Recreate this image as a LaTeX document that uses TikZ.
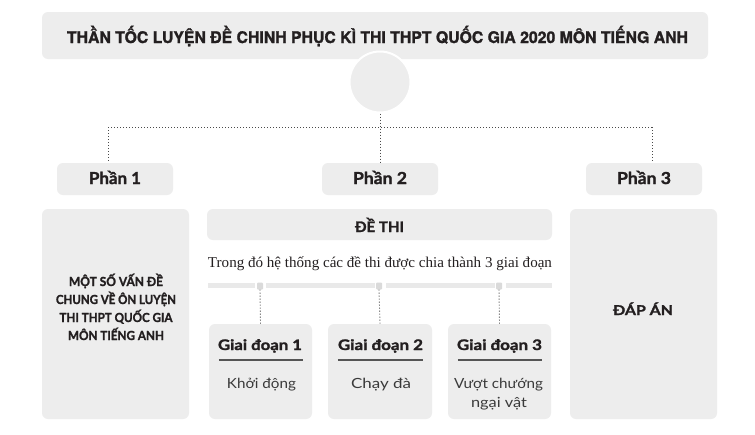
\documentclass[tikz,border=0pt]{standalone}
\usepackage{fontspec}
\usepackage{graphicx}
\setmainfont{Lato}[BoldFeatures={FakeBold=1.6}]
\newfontfamily\titlefont{TeX Gyre Heros}[BoldFeatures={FakeBold=1.4}]
\newfontfamily\seriffont{Liberation Serif}
\usetikzlibrary{calc}
\definecolor{boxgray}{HTML}{EDEDED}
\definecolor{bargray}{HTML}{E9E9E9}
\definecolor{sqgray}{HTML}{DADADA}
\definecolor{ink}{HTML}{231F20}
\definecolor{soft}{HTML}{3A3A3A}
\definecolor{dotgray}{HTML}{4A4A4A}
\definecolor{linegray}{HTML}{555555}
\newcommand{\fitw}[2]{\resizebox{#1pt}{\height}{#2}}
\begin{document}
\begin{tikzpicture}[x=1pt,y=-1pt,
  box/.style={fill=boxgray, rounded corners=6pt, inner sep=0pt},
  txt/.style={anchor=base, inner sep=0pt, text=ink},
  dotline/.style={draw=dotgray, line width=0.9pt, dash pattern=on 0.9pt off 2.1pt},
  uline/.style={draw=linegray, line width=1.5pt},
  sq/.style={fill=sqgray, rounded corners=1pt, inner sep=0pt, minimum width=6pt, minimum height=7pt},
  bar/.style={fill=bargray}]
\path[use as bounding box, fill=white] (0,0) rectangle (755,434);

% title
\node[box, minimum width=666pt, minimum height=47pt] (title) at (375,35.5) {};
\node[txt] (titletext) at (377.5,43) {\fitw{621}{\titlefont\bfseries\fontsize{16}{18}\selectfont THẦN TỐC LUYỆN ĐỀ CHINH PHỤC KÌ THI THPT QUỐC GIA 2020 MÔN TIẾNG ANH}};
\node[circle, fill=boxgray, draw=white, line width=2pt, minimum size=61pt, inner sep=0pt] (c) at (380,82) {};

% part headers
\node[box, minimum width=116pt, minimum height=32pt] (p1) at (115,179) {};
\node[box, minimum width=116pt, minimum height=32pt] (p2) at (380,179) {};
\node[box, minimum width=116pt, minimum height=32pt] (p3) at (644,179) {};
\node[txt] (p1t) at (115,184) {\fitw{52}{\bfseries\fontsize{16.5}{18}\selectfont Phần 1}};
\node[txt] (p2t) at (380,184) {\fitw{54}{\bfseries\fontsize{16.5}{18}\selectfont Phần 2}};
\node[txt] (p3t) at (644,184) {\fitw{54}{\bfseries\fontsize{16.5}{18}\selectfont Phần 3}};

% connectors
\coordinate (hl) at (108,127);
\coordinate (hr) at (652,127);
\draw[dotline] (hl) -- (hr);
\draw[dotline] (c.south) -- (p2.north);
\draw[dotline] (hl) -- (hl |- p1.north);
\draw[dotline] (hr) -- (hr |- p3.north);

% left box
\node[box, minimum width=147pt, minimum height=210pt] (left) at (115.5,314) {};
\node[txt] (l1) at (116,286) {\fitw{94}{\bfseries\fontsize{12.5}{14}\selectfont MỘT SỐ VẤN ĐỀ}};
\node[txt] (l2) at (116,304) {\fitw{120}{\bfseries\fontsize{12.5}{14}\selectfont CHUNG VỀ ÔN LUYỆN}};
\node[txt] (l3) at (116,322) {\fitw{113}{\bfseries\fontsize{12.5}{14}\selectfont THI THPT QUỐC GIA}};
\node[txt] (l4) at (116,340) {\fitw{96}{\bfseries\fontsize{12.5}{14}\selectfont MÔN TIẾNG ANH}};

% right box
\node[box, minimum width=147pt, minimum height=210pt] (right) at (643.5,314) {};
\node[txt] (ans) at (643,315) {\fitw{60}{\bfseries\fontsize{13.5}{14}\selectfont ĐÁP ÁN}};

% middle
\node[box, minimum width=345pt, minimum height=31pt] (de) at (379.5,224.5) {};
\node[txt] (det) at (379.5,232) {\fitw{49}{\bfseries\fontsize{14.5}{16}\selectfont ĐỀ THI}};
\node[txt] (intro) at (380,267) {\fitw{344}{\seriffont\fontsize{15}{17}\selectfont Trong đó hệ thống các đề thi được chia thành 3 giai đoạn}};

% bar
\fill[bar] (208,283) rectangle (255,287.5);
\fill[bar] (266,283) rectangle (375,287.5);
\fill[bar] (386,283) rectangle (495,287.5);
\fill[bar] (506,283) rectangle (552,287.5);
\node[sq] (q1) at (260,286) {};
\node[sq] (q2) at (379,286) {};
\node[sq] (q3) at (499,286) {};

% stage boxes
\node[box, minimum width=103pt, minimum height=95pt] (s1) at (260.5,371.5) {};
\node[box, minimum width=104pt, minimum height=95pt] (s2) at (380,371.5) {};
\node[box, minimum width=103pt, minimum height=95pt] (s3) at (499.5,371.5) {};
\draw[dotline] (q1.south) -- (s1.north);
\draw[dotline] (q2.south) -- (s2.north);
\draw[dotline] (q3.south) -- (s3.north);

\node[txt] (g1) at (260,350) {\fitw{84}{\bfseries\fontsize{14.5}{16}\selectfont Giai đoạn 1}};
\node[txt] (g2) at (380.5,350) {\fitw{85}{\bfseries\fontsize{14.5}{16}\selectfont Giai đoạn 2}};
\node[txt] (g3) at (499.5,350) {\fitw{85}{\bfseries\fontsize{14.5}{16}\selectfont Giai đoạn 3}};
\draw[uline] ($(s1.north west)+(10,36)$) -- ($(s1.north east)+(-9,36)$);
\draw[uline] ($(s2.north west)+(10,36)$) -- ($(s2.north east)+(-9,36)$);
\draw[uline] ($(s3.north west)+(10,36)$) -- ($(s3.north east)+(-9,36)$);
\node[txt, text=soft] (k1) at (261.5,388) {\fitw{69}{\fontsize{14}{16}\selectfont Khởi động}};
\node[txt, text=soft] (k2) at (381,388) {\fitw{60}{\fontsize{14}{16}\selectfont Chạy đà}};
\node[txt, text=soft] (k3) at (498.5,388) {\fitw{89}{\fontsize{14}{16}\selectfont Vượt chướng}};
\node[txt, text=soft] (k4) at (499,407) {\fitw{56}{\fontsize{14}{16}\selectfont ngại vật}};
\end{tikzpicture}
\end{document}
